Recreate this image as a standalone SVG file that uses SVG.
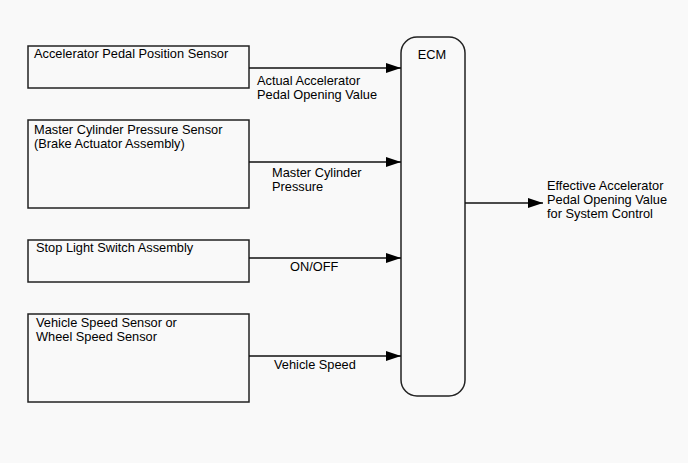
<svg xmlns="http://www.w3.org/2000/svg" width="688" height="463" viewBox="0 0 688 463">
<style>
.box{fill:#f9f9f9;stroke:#222;stroke-width:1.5}
.t{font-family:"Liberation Sans",Arial,sans-serif;font-size:12.8px;fill:#000}
.c{stroke:#111;stroke-width:1.5;fill:none}
</style>
<defs>
<marker id="ah" markerWidth="15" markerHeight="10" refX="15" refY="5" orient="auto" markerUnits="userSpaceOnUse">
<path d="M0,0 L15,5 L0,10 Z" fill="#000"/>
</marker>
</defs>
<rect width="688" height="463" fill="#f9f9f9"/>
<g id="n1"><rect class="box" x="28" y="46" width="221" height="42"/><text class="t" x="34" y="58">Accelerator Pedal Position Sensor</text></g>
<g id="n2"><rect class="box" x="28" y="120" width="221" height="88"/><text class="t" x="34" y="134">Master Cylinder Pressure Sensor</text><text class="t" x="34" y="148">(Brake Actuator Assembly)</text></g>
<g id="n3"><rect class="box" x="28" y="240" width="221" height="42"/><text class="t" x="36" y="252">Stop Light Switch Assembly</text></g>
<g id="n4"><rect class="box" x="28" y="314" width="221" height="88"/><text class="t" x="36" y="327">Vehicle Speed Sensor or</text><text class="t" x="36" y="341">Wheel Speed Sensor</text></g>
<g id="ecm"><rect class="box" x="401" y="37" width="64" height="359" rx="16" ry="16"/><text class="t" x="432" y="59" text-anchor="middle">ECM</text></g>
<g id="out"><text class="t" x="547" y="190">Effective Accelerator</text><text class="t" x="547" y="204">Pedal Opening Value</text><text class="t" x="547" y="218">for System Control</text></g>
<g id="connectors">
<line class="c" x1="249" y1="68" x2="401" y2="68" marker-end="url(#ah)"/>
<line class="c" x1="249" y1="162" x2="401" y2="162" marker-end="url(#ah)"/>
<line class="c" x1="249" y1="258" x2="401" y2="258" marker-end="url(#ah)"/>
<line class="c" x1="249" y1="356" x2="401" y2="356" marker-end="url(#ah)"/>
<line class="c" x1="465" y1="203" x2="543" y2="203" marker-end="url(#ah)"/>
<text class="t" x="257" y="85">Actual Accelerator</text>
<text class="t" x="257" y="99">Pedal Opening Value</text>
<text class="t" x="272" y="177">Master Cylinder</text>
<text class="t" x="272" y="191">Pressure</text>
<text class="t" x="290" y="271">ON/OFF</text>
<text class="t" x="274" y="369">Vehicle Speed</text>
</g>
</svg>
